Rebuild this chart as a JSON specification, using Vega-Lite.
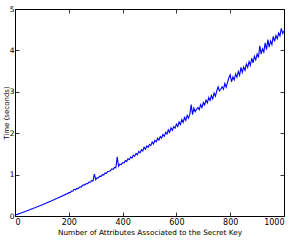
{
  "$schema": "https://vega.github.io/schema/vega-lite/v6.json",
  "width": 269,
  "height": 207,
  "autosize": "none",
  "padding": {"left": 15, "top": 9, "right": 12, "bottom": 32},
  "background": "white",
  "data": {"values": [
    {"n":0,"t":0.018},{"n":5,"t":0.034},{"n":10,"t":0.042},{"n":15,"t":0.057},{"n":20,"t":0.066},{"n":25,"t":0.081},{"n":30,"t":0.090},{"n":35,"t":0.104},{"n":40,"t":0.113},{"n":45,"t":0.128},
    {"n":50,"t":0.139},{"n":55,"t":0.150},{"n":60,"t":0.166},{"n":65,"t":0.176},{"n":70,"t":0.192},{"n":75,"t":0.201},{"n":80,"t":0.217},{"n":85,"t":0.227},{"n":90,"t":0.243},{"n":95,"t":0.253},
    {"n":100,"t":0.268},{"n":105,"t":0.279},{"n":110,"t":0.297},{"n":115,"t":0.308},{"n":120,"t":0.325},{"n":125,"t":0.335},{"n":130,"t":0.353},{"n":135,"t":0.363},{"n":140,"t":0.382},{"n":145,"t":0.391},
    {"n":150,"t":0.409},{"n":155,"t":0.420},{"n":160,"t":0.440},{"n":165,"t":0.450},{"n":170,"t":0.470},{"n":175,"t":0.480},{"n":180,"t":0.502},{"n":185,"t":0.510},{"n":190,"t":0.532},{"n":195,"t":0.540},
    {"n":200,"t":0.568},{"n":205,"t":0.565},{"n":210,"t":0.600},{"n":215,"t":0.598},{"n":220,"t":0.645},{"n":225,"t":0.630},{"n":230,"t":0.668},{"n":235,"t":0.662},{"n":240,"t":0.700},{"n":245,"t":0.695},
    {"n":250,"t":0.730},{"n":255,"t":0.755},{"n":260,"t":0.752},{"n":265,"t":0.782},{"n":270,"t":0.782},{"n":275,"t":0.818},{"n":280,"t":0.815},{"n":285,"t":0.854},{"n":290,"t":0.850},{"n":295,"t":1.010},
    {"n":300,"t":0.878},{"n":305,"t":0.922},{"n":310,"t":0.920},{"n":315,"t":0.962},{"n":320,"t":0.958},{"n":325,"t":1.000},{"n":330,"t":0.995},{"n":335,"t":1.040},{"n":340,"t":1.030},{"n":345,"t":1.075},
    {"n":350,"t":1.082},{"n":355,"t":1.092},{"n":360,"t":1.135},{"n":365,"t":1.125},{"n":370,"t":1.172},{"n":375,"t":1.165},{"n":380,"t":1.430},{"n":385,"t":1.200},{"n":390,"t":1.250},{"n":395,"t":1.240},
    {"n":400,"t":1.290},{"n":405,"t":1.280},{"n":410,"t":1.340},{"n":415,"t":1.315},{"n":420,"t":1.380},{"n":425,"t":1.360},{"n":430,"t":1.430},{"n":435,"t":1.400},{"n":440,"t":1.470},{"n":445,"t":1.445},
    {"n":450,"t":1.510},{"n":455,"t":1.480},{"n":460,"t":1.560},{"n":465,"t":1.525},{"n":470,"t":1.600},{"n":475,"t":1.570},{"n":480,"t":1.660},{"n":485,"t":1.610},{"n":490,"t":1.690},{"n":495,"t":1.660},
    {"n":500,"t":1.730},{"n":505,"t":1.700},{"n":510,"t":1.790},{"n":515,"t":1.740},{"n":520,"t":1.830},{"n":525,"t":1.790},{"n":530,"t":1.880},{"n":535,"t":1.835},{"n":540,"t":1.920},{"n":545,"t":1.880},
    {"n":550,"t":1.970},{"n":555,"t":1.925},{"n":560,"t":2.020},{"n":565,"t":1.980},{"n":570,"t":2.080},{"n":575,"t":2.020},{"n":580,"t":2.130},{"n":585,"t":2.070},{"n":590,"t":2.160},{"n":595,"t":2.120},
    {"n":600,"t":2.220},{"n":605,"t":2.160},{"n":610,"t":2.270},{"n":615,"t":2.210},{"n":620,"t":2.330},{"n":625,"t":2.260},{"n":630,"t":2.380},{"n":635,"t":2.310},{"n":640,"t":2.430},{"n":645,"t":2.360},
    {"n":650,"t":2.460},{"n":655,"t":2.690},{"n":660,"t":2.450},{"n":665,"t":2.610},{"n":670,"t":2.520},{"n":675,"t":2.580},{"n":680,"t":2.620},{"n":685,"t":2.570},{"n":690,"t":2.690},{"n":695,"t":2.620},
    {"n":700,"t":2.740},{"n":705,"t":2.680},{"n":710,"t":2.800},{"n":715,"t":2.730},{"n":720,"t":2.860},{"n":725,"t":2.790},{"n":730,"t":2.910},{"n":735,"t":2.830},{"n":740,"t":2.970},{"n":745,"t":2.890},
    {"n":750,"t":3.020},{"n":755,"t":3.120},{"n":760,"t":3.020},{"n":765,"t":3.060},{"n":770,"t":3.120},{"n":775,"t":3.060},{"n":780,"t":3.200},{"n":785,"t":3.110},{"n":790,"t":3.230},{"n":795,"t":3.340},
    {"n":800,"t":3.410},{"n":805,"t":3.240},{"n":810,"t":3.360},{"n":815,"t":3.290},{"n":820,"t":3.430},{"n":825,"t":3.350},{"n":830,"t":3.490},{"n":835,"t":3.400},{"n":840,"t":3.590},{"n":845,"t":3.470},
    {"n":850,"t":3.600},{"n":855,"t":3.520},{"n":860,"t":3.670},{"n":865,"t":3.590},{"n":870,"t":3.730},{"n":875,"t":3.640},{"n":880,"t":3.810},{"n":885,"t":3.700},{"n":890,"t":3.860},{"n":895,"t":3.770},
    {"n":900,"t":3.910},{"n":905,"t":3.830},{"n":910,"t":4.110},{"n":915,"t":3.910},{"n":920,"t":4.040},{"n":925,"t":3.960},{"n":930,"t":4.180},{"n":935,"t":4.020},{"n":940,"t":4.260},{"n":945,"t":4.080},
    {"n":950,"t":4.230},{"n":955,"t":4.140},{"n":960,"t":4.340},{"n":965,"t":4.220},{"n":970,"t":4.360},{"n":975,"t":4.280},{"n":980,"t":4.420},{"n":985,"t":4.350},{"n":990,"t":4.530},{"n":995,"t":4.410},
    {"n":1000,"t":4.470}
  ]},
  "layer": [
    {
      "mark": {"type": "line", "color": "#0000ff", "strokeWidth": 1.1},
      "encoding": {
        "x": {"field": "n", "type": "quantitative", "scale": {"domain": [0, 1000], "nice": false, "zero": false},
              "axis": {"orient": "bottom", "values": [0,200,400,600,800,1000], "format": "d", "tickSize": -4, "labelPadding": 6, "domain": false, "grid": false,
                       "title": "Number of Attributes Associated to the Secret Key", "titlePadding": 2}},
        "y": {"field": "t", "type": "quantitative", "scale": {"domain": [0, 5], "nice": false, "zero": false},
              "axis": {"orient": "left", "values": [0,1,2,3,4,5], "format": "d", "tickSize": -4, "labelPadding": 5, "labelFontSize": 7.5, "domain": false, "grid": false,
                       "title": "Time (seconds)", "titlePadding": 0, "titleFontSize": 7}}
      }
    },
    {
      "mark": {"type": "line", "opacity": 0},
      "encoding": {
        "x": {"field": "n", "type": "quantitative", "scale": {"domain": [0, 1000], "nice": false, "zero": false},
              "axis": {"orient": "top", "values": [0,200,400,600,800,1000], "tickSize": -4, "labels": false, "domain": false, "grid": false, "title": null}},
        "y": {"field": "t", "type": "quantitative", "scale": {"domain": [0, 5], "nice": false, "zero": false},
              "axis": {"orient": "right", "values": [0,1,2,3,4,5], "tickSize": -4, "labels": false, "domain": false, "grid": false, "title": null}}
      }
    }
  ],
  "resolve": {"axis": {"x": "independent", "y": "independent"}},
  "config": {
    "view": {"stroke": "black", "strokeWidth": 1},
    "axis": {"labelFont": "DejaVu Sans", "titleFont": "DejaVu Sans", "labelFontSize": 8, "titleFontSize": 7.3, "titleFontWeight": "normal",
             "labelColor": "#000000", "titleColor": "#000000", "tickColor": "#000000", "tickWidth": 0.8}
  }
}
